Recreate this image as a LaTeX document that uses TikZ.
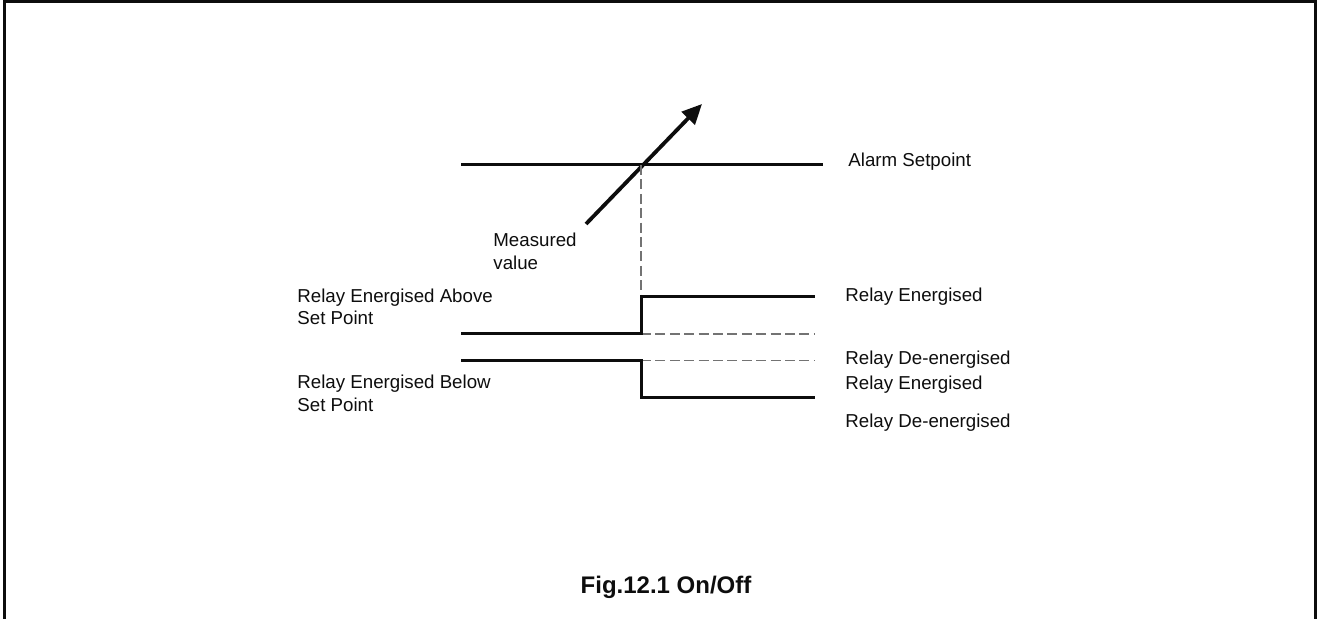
\documentclass[tikz,border=0pt]{standalone}
\usepackage{fontspec}
\setmainfont{Liberation Sans}
\usetikzlibrary{arrows.meta}
\definecolor{ink}{gray}{0.05}
\definecolor{guidegrey}{gray}{0.45}

\begin{document}
\begin{tikzpicture}[x=0.5pt,y=-0.5pt,>={Triangle[length=10pt,width=9pt]},every node/.style={font=\fontsize{9.35}{11.25}\selectfont,align=left,inner sep=0pt,text=ink},lbl/.style={anchor=base west},level/.style={draw=ink,line width=1.5pt},guide/.style={draw=guidegrey,line width=0.75pt,dash pattern=on 5pt off 2.2pt}]
\useasboundingbox (0,0) rectangle (1317,619);
\draw[draw=ink,line width=1.5pt] (4.5,619)--(4.5,1.5)--(1315.5,1.5)--(1315.5,619);
% set point and measured value
\coordinate (sp-l) at (461,165);\coordinate (sp-r) at (823,165);\coordinate (cross) at (641,165);
\coordinate (mv-tail) at (586,224);\coordinate (mv-tip) at (702,104);
\draw[level] (sp-l)--(sp-r);
\draw[level,line width=1.9pt,->] (mv-tail)--(mv-tip);
% relay energised above set point
\coordinate (ab-l) at (461,334);\coordinate (ab-s) at (641,334);\coordinate (ab-h) at (641,296.5);\coordinate (ab-r) at (815,296.5);\coordinate (ab-d) at (815,334);
% relay energised below set point
\coordinate (be-l) at (461,360.5);\coordinate (be-s) at (641,360.5);\coordinate (be-lo) at (641,397.5);\coordinate (be-r) at (815,397.5);\coordinate (be-d) at (815,360.5);
\draw[guide] (cross)--(ab-h);
\draw[guide] (ab-s)--(ab-d);\draw[guide] (be-s)--(be-d);
\draw[level] (ab-l)--(ab-s)--(ab-h)--(ab-r);
\draw[level] (be-l)--(be-s)--(be-lo)--(be-r);
% labels (base of a two-line label is its last line)
\node[lbl] (alarm) at (848,166.5) {Alarm Setpoint};
\node[lbl] (measured) at (493,269.5) {Measured\\value};
\node[lbl] (above) at (297,325) {Relay Energised Above\\Set Point};
\node[lbl] (below) at (297,411.5) {Relay Energised Below\\Set Point};
\node[lbl] (on-a) at (845,302) {Relay Energised};
\node[lbl] (off-a) at (845,365) {Relay De-energised};
\node[lbl] (on-b) at (845,390) {Relay Energised};
\node[lbl] (off-b) at (845,428) {Relay De-energised};
\node[anchor=base,font=\fontsize{12}{14}\selectfont\bfseries] (caption) at (666,594) {Fig.12.1 On/Off};
\end{tikzpicture}
\end{document}
